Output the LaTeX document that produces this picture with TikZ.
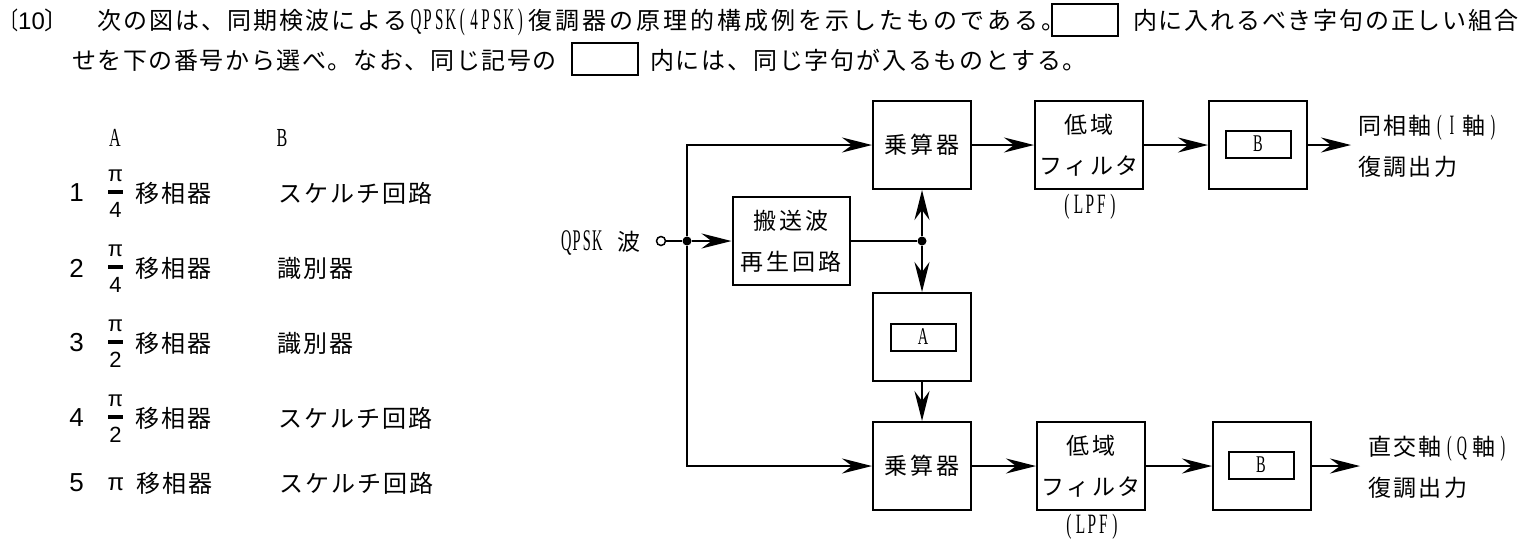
\documentclass[tikz,border=0pt]{standalone}
\usepackage{fontspec}
\usepackage{graphicx}
\usetikzlibrary{arrows.meta}
\setmainfont{Liberation Serif}
\newfontfamily\cjk{Noto Sans CJK JP}
\newfontfamily\lsans{Liberation Sans}
\newfontfamily\lserif{Liberation Serif}
\newlength\fp
\newlength\hp
\newcommand\hfs{30pt}
\newcommand\hsc{0.5}
\makeatletter
\def\fx#1{\fx@a#1\relax}
\def\fx@a#1{\ifx\relax#1\else\makebox[\fp]{#1}\expandafter\fx@a\fi}
\def\hx#1{\hx@a#1\relax}
\def\hx@a#1{\ifx\relax#1\else\makebox[\hp]{\lserif\fontsize{\hfs}{\hfs}\selectfont\scalebox{\hsc}[1]{#1}}\expandafter\hx@a\fi}
\makeatother
% fixed-pitch full-width text: pitch, text
\newcommand\fxs[2]{\setlength\fp{#1}\fx{#2}}
% fixed-pitch condensed Latin: size, x-scale, pitch, text
\newcommand\hxs[4]{\renewcommand\hfs{#1}\renewcommand\hsc{#2}\setlength\hp{#3}\hx{#4}}
\newcommand\pifr[3]{%
  \node[fr] (#1p) at (115.5,{#2-16}) {π};
  \draw[line width=3.5pt] (108,#2) -- (123,#2);
  \node[fr] (#1d) at (115.5,{#2+18}) {#3};}
\begin{document}
\begin{tikzpicture}[x=1pt,y=-1pt,
  jp/.style={font=\cjk\fontsize{24pt}{24pt}\selectfont, inner sep=0pt},
  dg/.style={font=\cjk\fontsize{23pt}{41pt}\selectfont, inner sep=0pt},
  num/.style={font=\lsans\fontsize{26pt}{26pt}\selectfont, inner sep=0pt},
  fr/.style={font=\lsans\fontsize{22pt}{22pt}\selectfont, inner sep=0pt},
  qbox/.style={draw, line width=1.3pt, minimum width=66pt, minimum height=32pt, inner sep=0pt},
  blk/.style={draw, line width=2pt, inner sep=0pt, minimum width=98pt, minimum height=88pt, dg, align=center},
  ibox/.style={draw, line width=2pt, inner sep=0pt, minimum width=65pt, minimum height=27pt, dg},
  conn/.style={line width=1.8pt},
  arr/.style={conn, -{Stealth[length=30pt,width=15pt,inset=10pt]}},
  jdot/.style={circle, fill, inner sep=0pt, minimum size=9pt},
  odot/.style={circle, draw, fill=white, line width=1.5pt, inner sep=0pt, minimum size=9pt}]
\useasboundingbox (0,0) rectangle (1536,550);
% ---------------- header ----------------
\node[jp, anchor=base west] (hbr1) at (0,29) {\scalebox{0.75}[1]{〔}};
\node[font=\lsans\fontsize{24pt}{24pt}\selectfont, inner sep=0pt, anchor=base west] (hnum) at (18,29) {10};
\node[jp, anchor=base west] (hbr2) at (44,29) {〕};
\node[jp, anchor=base west] (h1a) at (96,29) {\fxs{26pt}{次の図は、同期検波による}};
\node[jp, anchor=base west] (h1b) at (410,29) {\hxs{30pt}{0.5}{11.6pt}{QPSK(4PSK)}};
\node[jp, anchor=base west] (h1c) at (527,29) {\fxs{27pt}{復調器の原理的構成例を示したものである。}};
\node[qbox] (hb1) at (1085,20) {};
\node[jp, anchor=base west] (h1d) at (1132,29) {\fxs{25.8pt}{内に入れるべき字句の正しい組合}};
\node[jp, anchor=base west] (h2a) at (71,69) {\fxs{25.6pt}{せを下の番号から選べ。なお、同じ記号の}};
\node[qbox] (hb2) at (605,59) {};
\node[jp, anchor=base west] (h2b) at (649,69) {\fxs{25.8pt}{内には、同じ字句が入るものとする。}};
% ---------------- choices table ----------------
\node[font=\lserif\fontsize{26pt}{26pt}\selectfont, inner sep=0pt] (tA) at (115,138) {\scalebox{0.62}[1]{A}};
\node[font=\lserif\fontsize{26pt}{26pt}\selectfont, inner sep=0pt] (tB) at (282,138) {\scalebox{0.62}[1]{B}};
\node[num] (r1n) at (76.5,193) {1};
\pifr{r1}{192}{4}
\node[jp, anchor=west] (r1a) at (134,193) {\fxs{26pt}{移相器}};
\node[jp, anchor=west] (r1b) at (277,193) {\fxs{26pt}{スケルチ回路}};
\node[num] (r2n) at (76.5,268) {2};
\pifr{r2}{267}{4}
\node[jp, anchor=west] (r2a) at (134,268) {\fxs{26pt}{移相器}};
\node[jp, anchor=west] (r2b) at (276,268) {\fxs{26pt}{識別器}};
\node[num] (r3n) at (76.5,343) {3};
\pifr{r3}{342}{2}
\node[jp, anchor=west] (r3a) at (134,343) {\fxs{26pt}{移相器}};
\node[jp, anchor=west] (r3b) at (276,343) {\fxs{26pt}{識別器}};
\node[num] (r4n) at (76.5,418) {4};
\pifr{r4}{417}{2}
\node[jp, anchor=west] (r4a) at (134,418) {\fxs{26pt}{移相器}};
\node[jp, anchor=west] (r4b) at (277,418) {\fxs{26pt}{スケルチ回路}};
\node[num] (r5n) at (76.5,483) {5};
\node[font=\lsans\fontsize{24pt}{24pt}\selectfont, inner sep=0pt] (r5p) at (116,484) {π};
\node[jp, anchor=west] (r5a) at (135,483) {\fxs{26pt}{移相器}};
\node[jp, anchor=west] (r5b) at (278,483) {\fxs{26pt}{スケルチ回路}};
% ---------------- block diagram ----------------
\node[dg, anchor=base west] (qin) at (561,250) {\hxs{30pt}{0.48}{10.3pt}{QPSK}\hspace{15pt}波};
\node[odot] (qc) at (661,241) {};
\node[jdot] (d1) at (687,241) {};
\node[blk, minimum width=117pt] (cr) at (791,241) {\fxs{26pt}{搬送波}\\\fxs{26pt}{再生回路}};
\node[jdot] (j) at (922,241) {};
\node[blk] (m1) at (922,145) {\fxs{26pt}{乗算器}};
\node[blk, minimum width=108pt] (l1) at (1089,145) {\fxs{25.5pt}{低域}\\\fxs{25.5pt}{フィルタ}};
\node[dg] (lp1) at (1090,207) {\hxs{28pt}{0.55}{11.5pt}{(LPF)}};
\node[blk] (b1) at (1258,145) {};
\node[ibox] (b1i) at (1258,144) {\lserif\fontsize{24pt}{24pt}\selectfont\scalebox{0.6}[1]{B}};
\coordinate (o1) at (1351,145);
\node[dg, anchor=west, align=left] (t1) at (1357,146) {\fxs{25.3pt}{同相軸}\hxs{28pt}{0.5}{12.6pt}{(I}\hspace{3pt}\fxs{25.3pt}{軸}\hxs{28pt}{0.5}{12.6pt}{)}\\\fxs{25.3pt}{復調出力}};
\node[blk] (a) at (922,337) {};
\node[ibox] (ai) at (923,337) {\lserif\fontsize{24pt}{24pt}\selectfont\scalebox{0.6}[1]{A}};
\node[blk] (m2) at (922,466) {\fxs{26pt}{乗算器}};
\node[blk, minimum width=108pt] (l2) at (1091,466) {\fxs{25.5pt}{低域}\\\fxs{25.5pt}{フィルタ}};
\node[dg] (lp2) at (1092,527) {\hxs{28pt}{0.55}{11.5pt}{(LPF)}};
\node[blk] (b2) at (1262,466) {};
\node[ibox] (b2i) at (1261,465) {\lserif\fontsize{24pt}{24pt}\selectfont\scalebox{0.6}[1]{B}};
\coordinate (o2) at (1360,466);
\node[dg, anchor=west, align=left] (t2) at (1367,467) {\fxs{25.3pt}{直交軸}\hxs{28pt}{0.5}{12.6pt}{(Q}\hspace{3pt}\fxs{25.3pt}{軸}\hxs{28pt}{0.5}{12.6pt}{)}\\\fxs{25.3pt}{復調出力}};
% connectors
\draw[conn] (qc) -- (d1);
\draw[arr] (d1) -- (cr.west);
\draw[arr] (d1) |- (m1.west);
\draw[arr] (d1) |- (m2.west);
\draw[conn] (cr.east) -- (j);
\draw[arr] (j) -- (m1.south);
\draw[arr] (j) -- (a.north);
\draw[arr] (a.south) -- (m2.north);
\draw[arr] (m1.east) -- (l1.west);
\draw[arr] (l1.east) -- (b1.west);
\draw[arr] (b1.east) -- (o1);
\draw[arr] (m2.east) -- (l2.west);
\draw[arr] (l2.east) -- (b2.west);
\draw[arr] (b2.east) -- (o2);
\end{tikzpicture}
\end{document}
